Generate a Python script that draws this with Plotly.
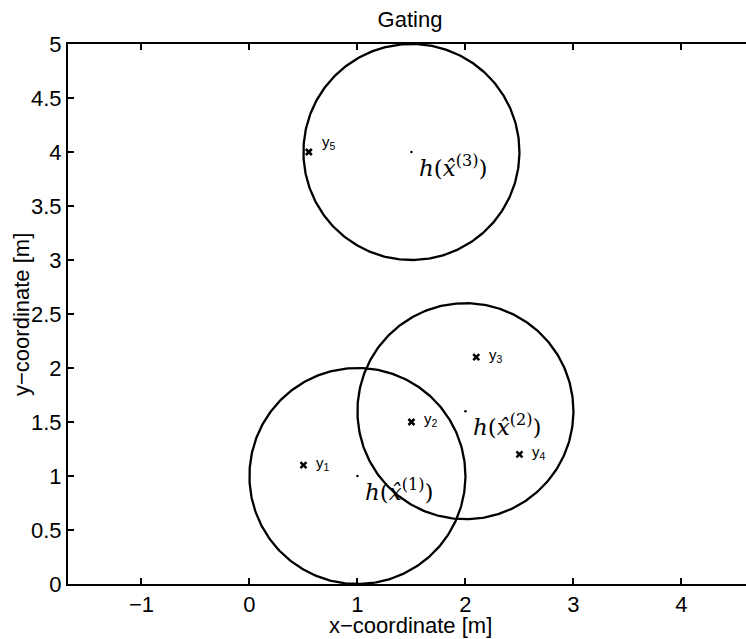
import numpy as np
import plotly.graph_objects as go

# Gate circles: predicted measurement centers and gate radius
center_x = [1.0, 2.0, 1.5]
center_y = [1.0, 1.6, 4.0]
gate_radius = [1.0, 1.0, 1.0]
center_labels = ["<i>h</i>(<i>x̂</i><sup>(1)</sup>)",
                 "<i>h</i>(<i>x̂</i><sup>(2)</sup>)",
                 "<i>h</i>(<i>x̂</i><sup>(3)</sup>)"]

# Measurements
meas_x = [0.5, 1.5, 2.1, 2.5, 0.55]
meas_y = [1.1, 1.5, 2.1, 1.2, 4.0]
meas_labels = ["y<sub>1</sub>", "y<sub>2</sub>", "y<sub>3</sub>", "y<sub>4</sub>", "y<sub>5</sub>"]

x_ticks = [-1, 0, 1, 2, 3, 4]
y_ticks = [0, 0.5, 1, 1.5, 2, 2.5, 3, 3.5, 4, 4.5, 5]

FONT = "Liberation Sans, Arial, Helvetica, sans-serif"
SERIF = "DejaVu Serif, Liberation Serif, serif"

# plot area geometry (px)
L, T, B, W, H = 68, 44, 55, 746, 639
PW, PH = W - L, H - T - B

fig = go.Figure()

theta = np.linspace(0, 2 * np.pi, 361)
for cx, cy, r in zip(center_x, center_y, gate_radius):
    fig.add_trace(go.Scatter(
        x=cx + r * np.cos(theta), y=cy + r * np.sin(theta),
        mode="lines", line=dict(color="black", width=2.3),
        hoverinfo="skip", showlegend=False))

# center dots
fig.add_trace(go.Scatter(
    x=center_x, y=center_y, mode="markers",
    marker=dict(color="black", size=2.5), showlegend=False))

# measurement crosses
fig.add_trace(go.Scatter(
    x=meas_x, y=meas_y, mode="markers",
    marker=dict(symbol="x-thin", size=6, color="black",
                line=dict(color="black", width=2.5)),
    showlegend=False))

for i, (mx, my, lab) in enumerate(zip(meas_x, meas_y, meas_labels)):
    dy = 0.09 if i == 4 else 0.02
    fig.add_annotation(x=mx + 0.1, y=my + dy, text=lab, showarrow=False,
                       xanchor="left", yanchor="middle",
                       font=dict(family=FONT, size=15, color="black"))

for cx, cy, lab in zip(center_x, center_y, center_labels):
    fig.add_annotation(x=cx + 0.05, y=cy - 0.13, text=lab, showarrow=False,
                       xanchor="left", yanchor="middle",
                       font=dict(family=SERIF, size=23, color="black"))

# axis titles
fig.add_annotation(text="x−coordinate [m]", xref="paper", yref="paper",
                   x=(410 - L) / PW, y=-(625.5 - (H - B)) / PH,
                   xanchor="center", yanchor="middle", showarrow=False,
                   font=dict(family=FONT, size=22, color="black"))
fig.add_annotation(text="y−coordinate [m]", xref="paper", yref="paper",
                   x=-(L - 21) / PW, y=0.5, textangle=-90,
                   xanchor="center", yanchor="middle", showarrow=False,
                   font=dict(family=FONT, size=22, color="black"))

axis_common = dict(
    showgrid=False, zeroline=False, showline=True, linecolor="black",
    linewidth=2, ticks="inside", ticklen=6, tickwidth=1.5, tickcolor="black",
    tickfont=dict(family=FONT, size=22, color="black"),
)

fig.update_layout(
    width=W, height=H,
    margin=dict(l=L, r=0, t=T, b=B),
    paper_bgcolor="white", plot_bgcolor="white",
    title=dict(text="Gating", x=410 / W, xanchor="center",
               y=1 - 19 / H, yanchor="middle", xref="container", yref="container",
               font=dict(family=FONT, size=22, color="black")),
    xaxis=dict(range=[-1.68, -1.68 + PW / 108], tickvals=x_ticks,
               mirror="allticks", **axis_common),
    yaxis=dict(range=[0, 5], tickvals=y_ticks, mirror=False, **axis_common),
)

fig.write_html("out.html")
